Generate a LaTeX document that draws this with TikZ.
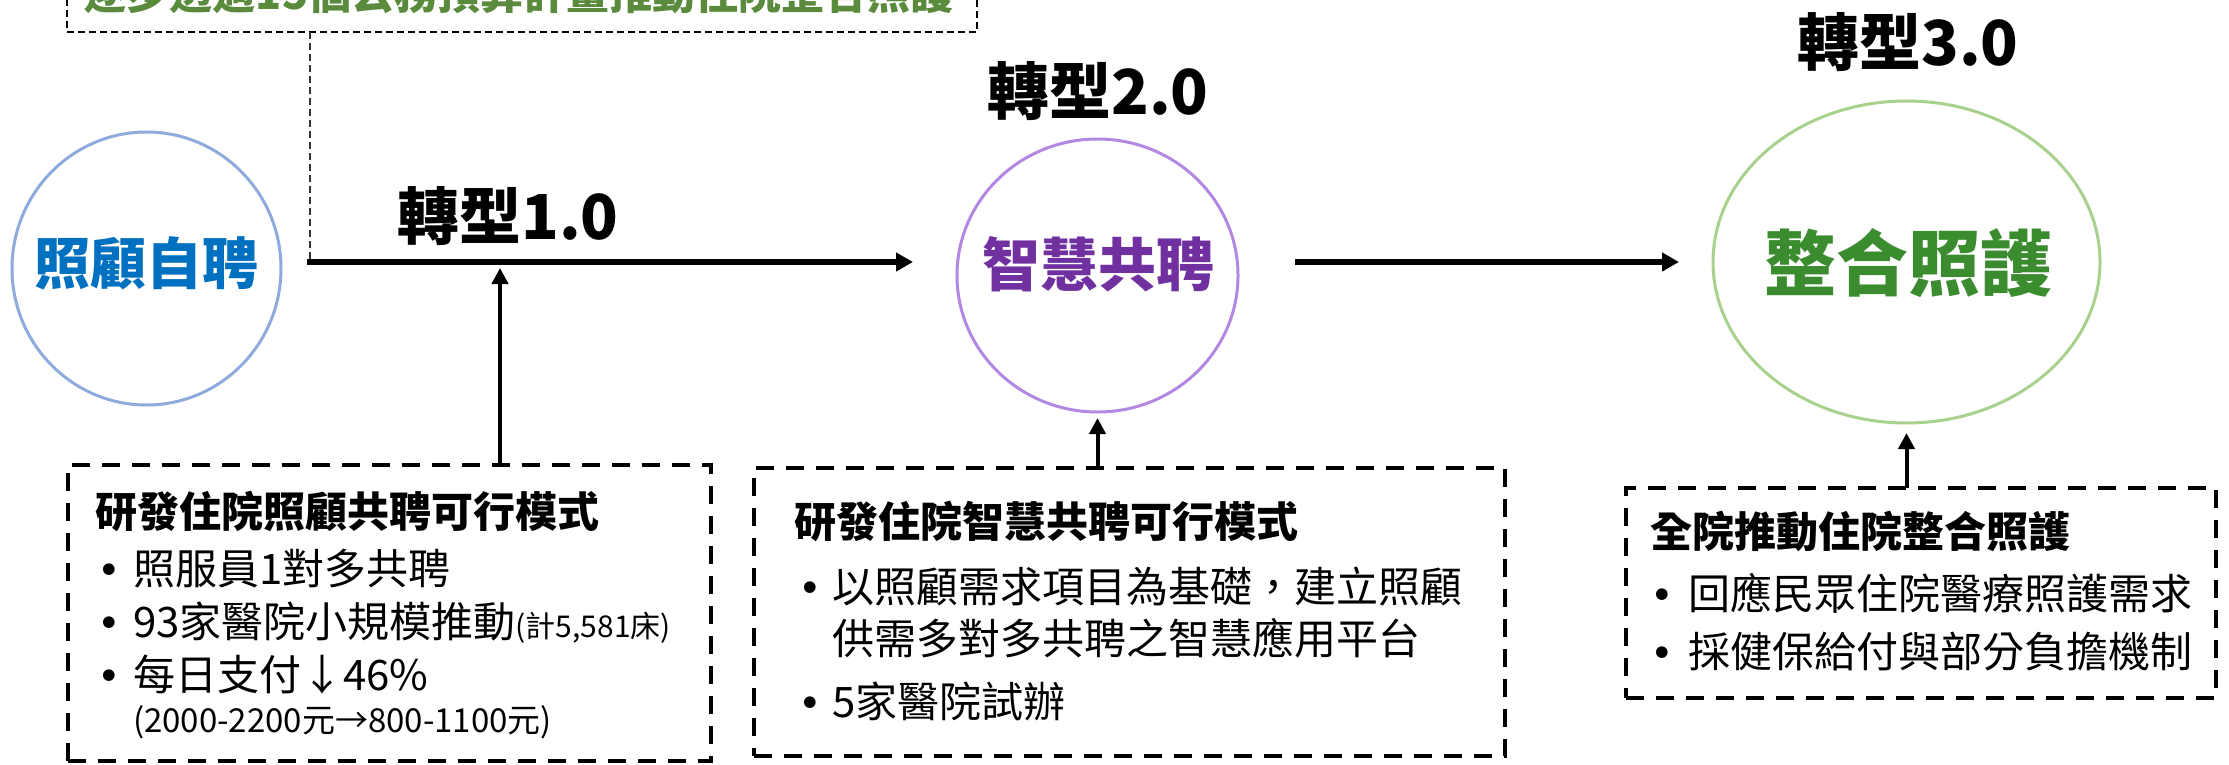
\documentclass[tikz,border=0pt]{standalone}
\usepackage{fontspec}
\setmainfont{Noto Sans CJK TC}
\newfontfamily\dejavu{DejaVu Sans}
\usetikzlibrary{arrows.meta,shapes.geometric}
\definecolor{cOneLine}{HTML}{8FAADC}
\definecolor{cOneText}{HTML}{0070C0}
\definecolor{cTwoLine}{HTML}{B388E2}
\definecolor{cTwoText}{HTML}{7030A0}
\definecolor{cThreeLine}{HTML}{A9D18E}
\definecolor{cThreeText}{HTML}{3A8C2E}
\definecolor{topText}{HTML}{5A8A3C}
\newcommand\myfs[1]{\fontsize{#1}{#1}\selectfont}
\newcommand\mybul[1]{\makebox[#1][l]{\hspace{4pt}{\dejavu\myfs{40}•}}}
\begin{document}
\begin{tikzpicture}[x=1pt,y=-1pt,
  every node/.style={inner sep=0pt,outer sep=0pt},
  ring/.style={ellipse,draw,line width=3pt},
  dbox/.style={draw,rectangle,line width=4.5pt,dash pattern=on 18pt off 12pt},
  topbox/.style={draw,rectangle,line width=2pt,dash pattern=on 7pt off 4pt},
  boxtitle/.style={anchor=base west,font=\myfs{42}\bfseries},
  boxitem/.style={anchor=base west,font=\myfs{42}},
  stage/.style={anchor=base,font=\myfs{62}\bfseries},
  ringtext/.style={anchor=base,font=\bfseries},
  mainarrow/.style={line width=5.5pt,-{Triangle[length=17pt,width=18pt]}},
  uparrow/.style={line width=4pt,-{Triangle[length=16pt,width=16pt]}},
  thindash/.style={line width=1.5pt,draw=black!80,dash pattern=on 7pt off 4pt}
]
\clip (0,0) rectangle (2229,765);
\fill[white] (0,0) rectangle (2229,765);

% top box
\node[topbox,minimum width=910pt,minimum height=80pt] (tb) at (522,-8) {};
\node[anchor=base,font=\myfs{43}\bfseries,text=topText] (tbt) at (518.5,10) {逐步透過15個公務預算計畫推動住院整合照護};

% circles
\node[ring,draw=cOneLine,minimum width=269pt,minimum height=273pt] (c1) at (146.5,268.5) {};
\node[ringtext,font=\myfs{56}\bfseries,text=cOneText] (c1t) at (146,284) {照顧自聘};
\node[ring,draw=cTwoLine,minimum width=281pt,minimum height=273pt] (c2) at (1097.5,275.5) {};
\node[ringtext,font=\myfs{58}\bfseries,text=cTwoText] (c2t) at (1098,286) {智慧共聘};
\node[ring,draw=cThreeLine,minimum width=387pt,minimum height=322pt] (c3) at (1906.5,262) {};
\node[ringtext,font=\myfs{72}\bfseries,text=cThreeText] (c3t) at (1908,290) {整合照護};

% stage labels
\node[stage] (s1l) at (508,239) {轉型1.0};
\node[stage] (s2l) at (1098,114) {轉型2.0};
\node[stage] (s3l) at (1908,66) {轉型3.0};

% main arrows
\coordinate (a1s) at (307,262);
\coordinate (m1) at (500,262);
\draw[mainarrow] (a1s) -- ([xshift=-44pt,yshift=13.5pt]c2.west);
\draw[mainarrow] ([xshift=57pt,yshift=13.5pt]c2.east) -- ([xshift=-34pt]c3.west);
\draw[thindash] (tb.south -| a1s) ++(3,0) -- ([xshift=3pt,yshift=2pt]a1s);

% boxes
\node[dbox,minimum width=643pt,minimum height=296pt] (b1) at (389.5,613) {};
\node[dbox,minimum width=751pt,minimum height=288pt] (b2) at (1129.5,612) {};
\node[dbox,minimum width=590pt,minimum height=210pt] (b3) at (1921,593) {};

% up arrows
\draw[uparrow,shorten >=6pt] (b1.north -| m1) -- (m1);
\draw[uparrow,shorten >=6pt] (b2.north -| c2.south) -- (c2.south);
\draw[uparrow,shorten >=10pt] (b3.north -| c3.south) -- (c3.south);

% box 1 text
\node[boxtitle] (b1t) at (95,527) {研發住院照顧共聘可行模式};
\node[boxitem] (b1i1) at (93,584) {\mybul{40pt}照服員1對多共聘};
\node[boxitem] (b1i2) at (93,637) {\mybul{40pt}93家醫院小規模推動{\myfs{30}(計5,581床)}};
\node[boxitem] (b1i3) at (93,690) {\mybul{40pt}每日支付↓46\%};
\node[boxitem,font=\myfs{33}] (b1i4) at (133,732) {(2000-2200元→800-1100元)};

% box 2 text
\node[boxtitle] (b2t) at (794,537) {研發住院智慧共聘可行模式};
\node[boxitem] (b2i1) at (794,602) {\mybul{38pt}以照顧需求項目為基礎，建立照顧};
\node[boxitem] (b2i2) at (832,654) {供需多對多共聘之智慧應用平台};
\node[boxitem] (b2i3) at (794,717) {\mybul{38pt}5家醫院試辦};

% box 3 text
\node[boxtitle] (b3t) at (1650,547) {全院推動住院整合照護};
\node[boxitem] (b3i1) at (1646,609) {\mybul{42pt}回應民眾住院醫療照護需求};
\node[boxitem] (b3i2) at (1646,667) {\mybul{42pt}採健保給付與部分負擔機制};
\end{tikzpicture}
\end{document}
